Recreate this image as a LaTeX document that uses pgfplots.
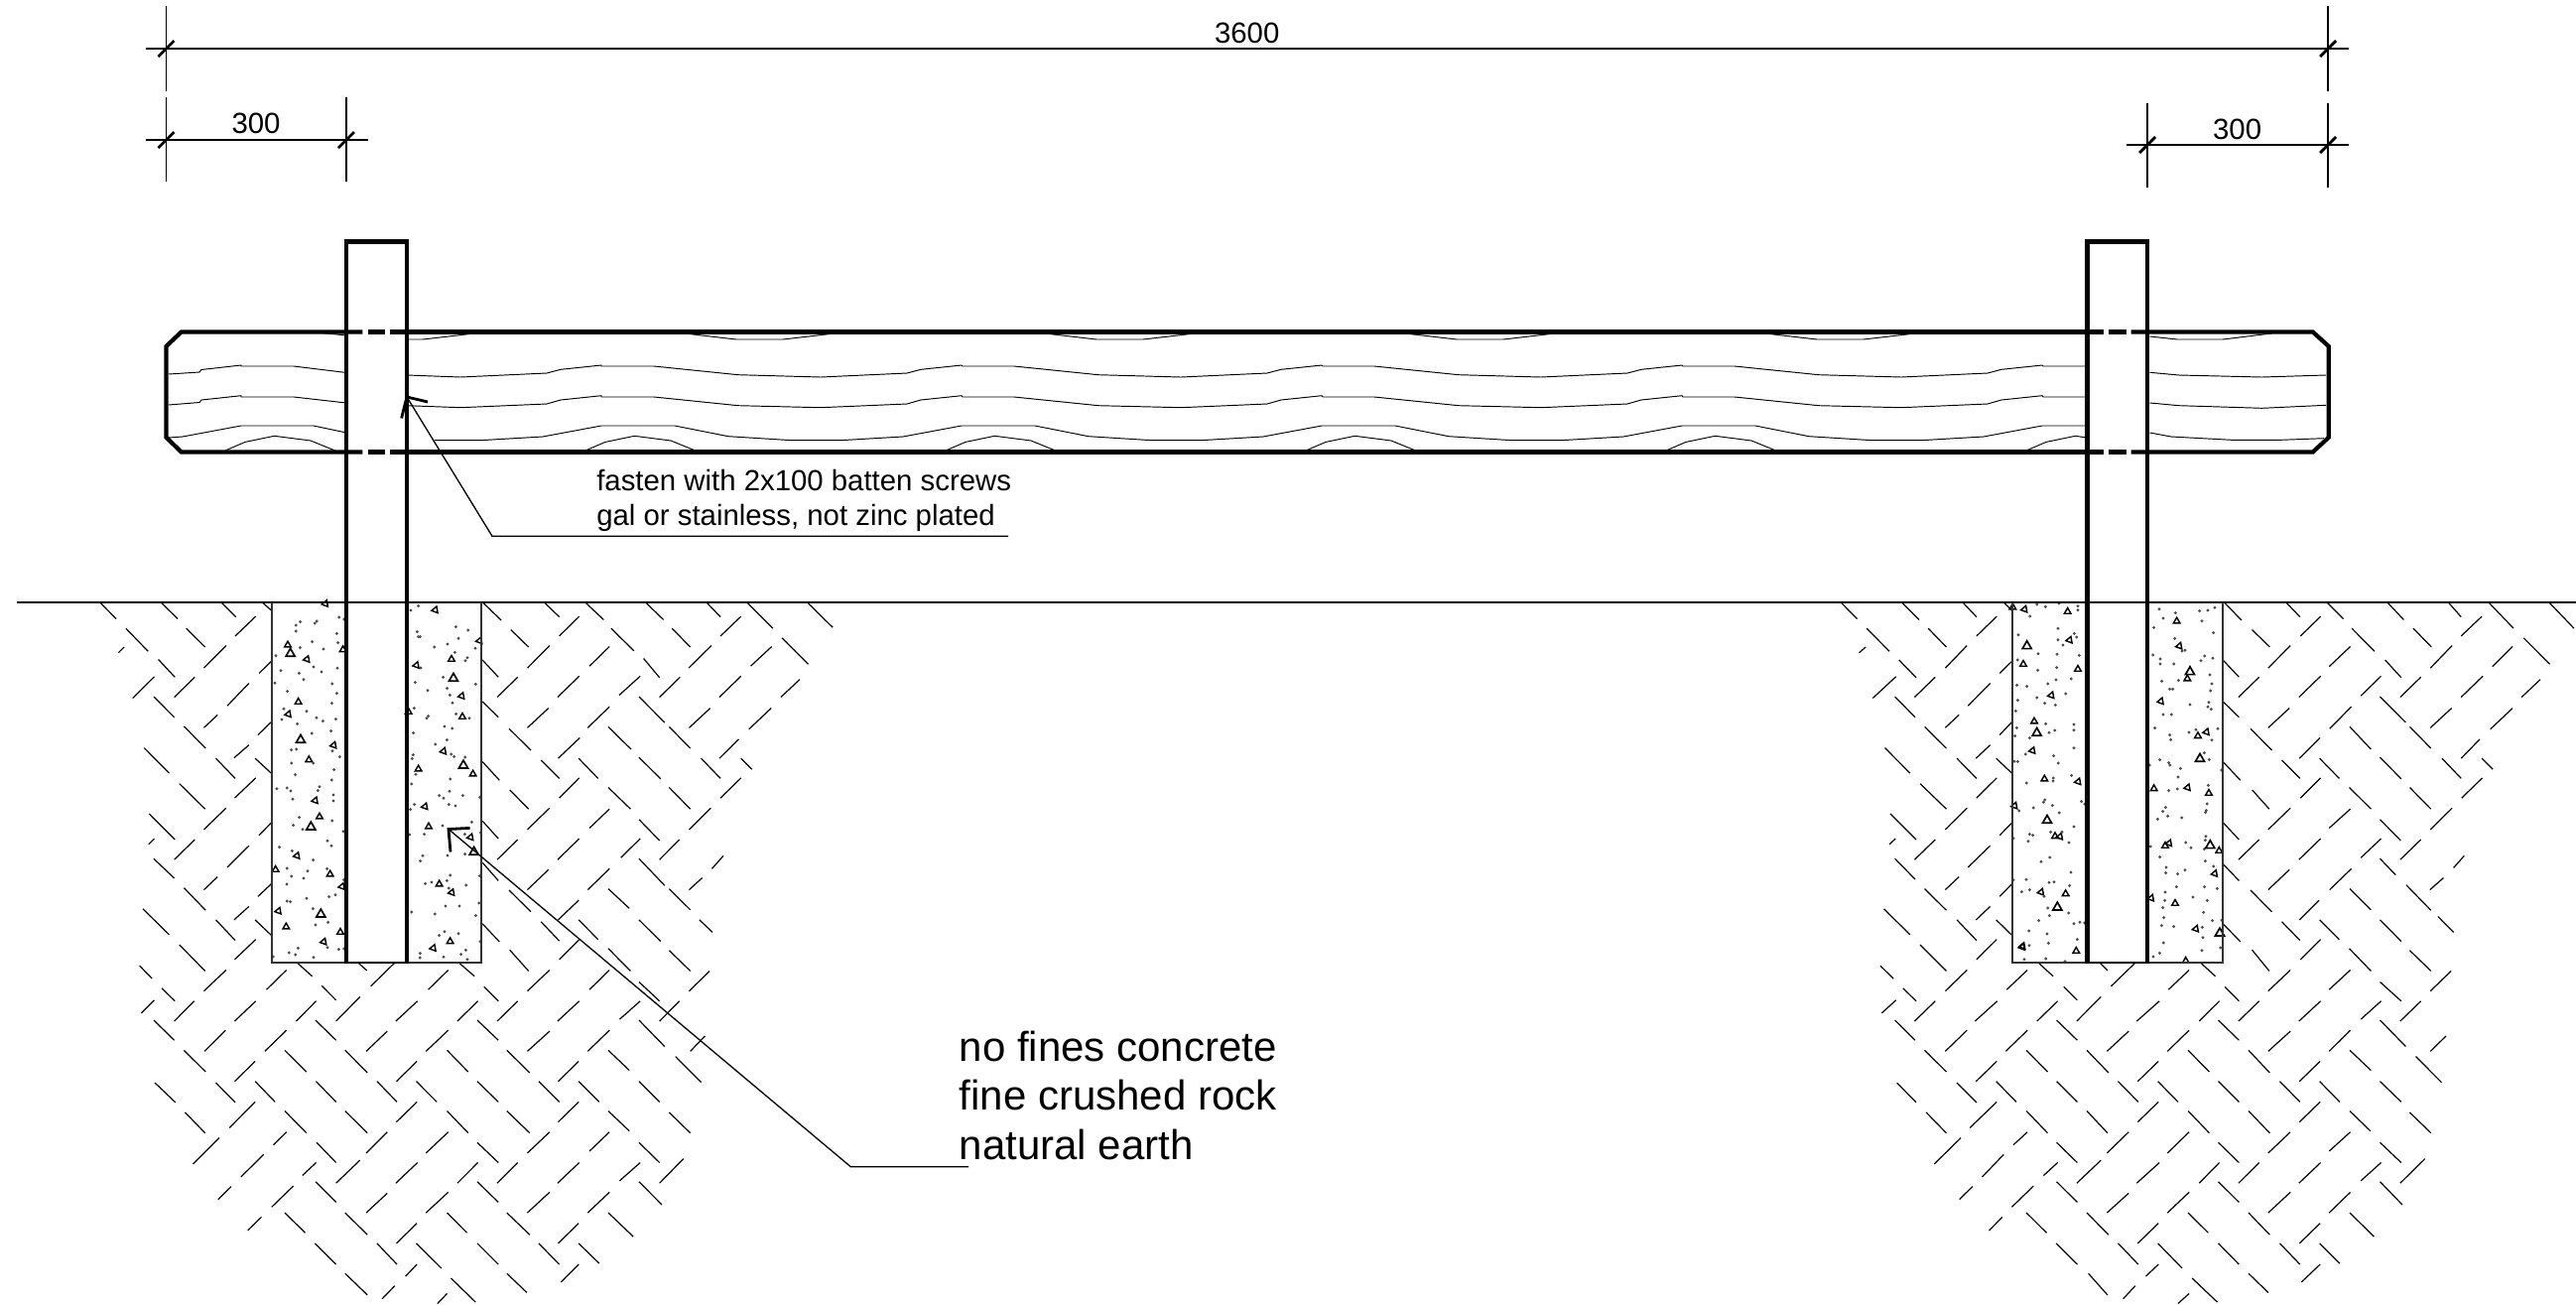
\documentclass[border=0pt]{standalone}
\usepackage{fontspec}
\setmainfont{Liberation Sans}
\usepackage{pgfplots}
\usepackage{pgfplotstable}
\pgfplotsset{compat=1.18}

% earth hatching, in the units of the axis each one is drawn in
\pgfplotstableread{
xa ya xb yb
175 97 204 132
282 97 312 132
388 97 414 128
460 97 477 115
847 97 880 135
955 97 982 128
1027 97 1060 134
1133 97 1165 134
1240 97 1265 128
1311 97 1357 152
1417 97 1462 150
221 152 260 200
327 152 360 191
413 168 449 127
897 155 928 191
982 168 1017 127
1073 152 1113 199
1180 152 1212 191
1265 168 1301 127
1373 172 1419 227
208 203 218 191
358 235 397 188
926 235 965 188
1035 231 1070 190
1209 235 1249 188
1318 231 1355 190
1130 215 1158 255
278 217 307 254
455 246 477 220
847 218 875 254
233 298 271 253
306 296 342 254
873 296 909 254
979 296 1017 252
1087 292 1124 252
1158 296 1194 254
1263 296 1301 252
1371 296 1404 259
270 295 306 338
847 305 875 338
1122 295 1167 349
399 314 437 267
926 360 963 319
1032 360 1070 316
1210 360 1247 319
1315 363 1354 319
358 360 382 333
453 375 477 347
323 357 361 403
894 362 932 407
1068 358 1108 405
1175 358 1212 403
411 423 437 396
980 424 1018 381
1263 424 1297 384
253 402 297 455
379 424 413 466
448 424 477 456
847 431 877 470
950 428 982 466
1016 424 1050 466
1122 422 1160 467
1231 424 1265 466
1301 424 1320 447
412 507 449 465
982 507 1017 465
1265 507 1301 465
315 477 360 530
895 490 928 530
1068 485 1107 530
1175 485 1212 530
358 573 397 528
926 573 965 528
1035 570 1070 530
1210 573 1248 528
262 540 307 594
455 585 477 558
847 555 875 592
1122 552 1158 596
261 604 271 592
306 636 342 594
873 636 909 594
979 636 1017 592
1090 632 1124 592
1158 636 1193 594
1250 655 1270 628
1210 699 1233 674
399 652 437 607
270 634 306 675
847 642 875 680
1122 634 1167 690
358 699 382 672
926 699 963 657
1032 699 1070 655
453 713 477 686
323 695 361 742
894 700 932 745
1068 697 1105 738
1175 697 1212 741
411 762 437 734
980 762 1016 721
251 739 297 793
379 762 413 805
448 762 477 795
847 770 877 808
950 766 982 806
1016 762 1050 803
1122 762 1160 807
1228 762 1251 788
412 845 449 803
982 845 1017 803
315 814 360 869
895 825 928 869
1068 822 1107 869
1175 826 1212 869
245 858 267 885
358 911 397 867
468 908 503 867
651 901 692 853
752 908 787 867
926 911 965 867
1035 908 1070 867
1210 911 1246 869
523 853 548 880
630 853 644 868
807 853 833 880
1122 892 1158 932
565 900 590 930
284 905 307 932
850 902 875 932
248 957 271 930
306 974 341 932
412 974 449 932
520 974 555 932
590 974 632 923
695 974 733 932
803 974 839 932
873 974 909 932
979 974 1017 932
1088 970 1124 932
1158 974 1193 932
270 972 306 1014
554 972 590 1014
838 972 875 1014
1122 972 1167 1027
359 1037 396 993
465 1037 503 993
643 1037 680 995
748 1037 787 993
926 1037 965 995
1032 1037 1070 993
1212 1037 1238 1005
323 1035 361 1080
500 1035 538 1080
606 1035 645 1082
785 1035 822 1080
890 1035 930 1082
1068 1035 1105 1077
1186 1048 1231 1102
412 1100 448 1058
696 1100 732 1058
980 1100 1016 1058
272 1103 308 1144
379 1103 413 1144
448 1100 483 1143
555 1100 590 1143
662 1100 697 1143
731 1100 767 1143
838 1100 875 1143
946 1100 982 1143
1016 1100 1052 1143
1122 1100 1158 1143
403 1197 448 1143
696 1185 732 1143
980 1185 1016 1143
325 1165 360 1208
500 1162 538 1208
606 1162 645 1208
785 1162 822 1208
890 1162 930 1208
1068 1162 1105 1204
1175 1165 1212 1208
480 1233 503 1206
643 1250 680 1206
748 1250 787 1206
926 1250 965 1206
1035 1246 1070 1206
339 1273 385 1218
556 1228 590 1270
838 1228 875 1270
1122 1228 1158 1270
423 1300 463 1253
531 1297 555 1270
590 1313 632 1265
695 1313 733 1270
803 1313 839 1270
873 1313 909 1270
979 1313 1017 1270
1088 1308 1124 1270
1158 1313 1200 1262
554 1310 590 1353
838 1310 875 1353
1122 1310 1162 1358
383 1347 406 1320
477 1363 515 1319
643 1375 680 1334
748 1375 787 1332
926 1375 965 1332
1032 1375 1070 1332
500 1375 536 1417
606 1375 645 1421
785 1375 820 1417
890 1375 930 1421
1068 1375 1112 1425
435 1412 459 1384
696 1439 732 1397
980 1439 1016 1397
553 1439 590 1483
662 1439 697 1483
731 1439 775 1491
838 1439 875 1483
946 1439 982 1483
1016 1439 1052 1481
712 1508 732 1483
985 1520 1016 1483
606 1502 645 1547
890 1502 925 1542
792 1512 835 1562
671 1555 693 1528
768 1565 785 1544
}\earthleft

\pgfplotstableread{
xa ya xb yb
108 97 141 132
229 97 264 134
350 97 378 128
431 97 449 115
869 97 904 135
992 97 1020 128
1073 97 1106 132
1193 97 1226 134
1314 97 1340 128
1394 97 1444 152
1514 97 1564 152
160 152 205 200
282 152 318 191
378 168 418 127
925 155 960 191
1021 168 1061 127
1123 152 1168 200
1245 152 1281 191
1340 168 1381 127
1464 172 1516 227
145 203 158 191
316 235 359 188
957 235 1001 188
1078 232 1120 190
1279 235 1322 188
1402 232 1442 190
224 218 258 255
424 246 449 220
867 218 899 254
1189 218 1221 255
172 298 218 253
255 296 296 254
898 296 939 254
1018 296 1061 252
1141 293 1181 252
1219 296 1260 254
1340 296 1383 252
1460 296 1497 259
216 295 256 338
867 305 899 338
1179 295 1230 349
361 314 405 267
957 360 999 319
1079 362 1122 316
1279 360 1321 319
1398 363 1442 319
316 360 343 333
424 375 449 347
275 358 318 403
922 362 964 407
1119 358 1161 405
1238 358 1280 403
377 424 405 396
1019 424 1060 381
1340 424 1377 384
196 402 246 455
339 424 378 466
417 424 449 456
867 431 902 470
984 428 1020 466
1059 424 1098 466
1179 422 1221 467
1302 424 1340 466
1381 424 1403 447
378 507 418 465
1021 507 1061 465
1341 507 1382 465
266 477 318 530
925 490 959 530
1118 485 1161 530
1238 485 1280 530
316 573 359 528
957 573 1001 528
1078 570 1120 530
1279 573 1322 528
207 540 258 594
424 585 449 558
867 558 899 594
1179 552 1220 596
205 604 217 592
255 636 296 594
898 636 939 594
1018 636 1061 592
1141 632 1181 592
1219 636 1260 594
1325 653 1346 628
1278 699 1305 674
361 652 405 607
216 634 256 677
867 645 899 680
1179 634 1210 668
316 699 343 672
957 699 999 657
1079 699 1122 655
424 713 449 686
275 697 318 742
922 700 964 745
1119 697 1161 741
1231 689 1280 742
377 762 405 734
1019 762 1058 721
194 739 246 793
339 762 378 805
417 762 449 795
867 770 902 808
984 766 1020 805
1059 762 1098 803
1179 762 1221 807
1294 755 1325 788
378 845 418 803
1021 845 1061 803
266 814 318 869
925 825 959 869
1118 822 1161 869
1238 826 1280 869
187 858 213 885
316 911 359 867
438 908 479 867
645 901 692 853
759 908 800 867
957 911 1001 867
1078 908 1120 867
1279 911 1320 869
502 853 530 880
624 853 638 868
824 853 852 880
1179 892 1221 932
551 902 578 930
232 905 258 932
871 902 899 932
190 957 218 930
255 974 296 932
375 974 419 932
498 974 539 932
577 974 625 923
696 974 741 932
820 974 860 932
898 974 939 932
1018 974 1061 932
1141 970 1181 932
1219 974 1260 932
216 972 256 1014
537 972 578 1014
858 972 899 1014
1179 972 1230 1027
316 1037 359 993
436 1037 479 993
637 1037 680 995
757 1037 800 993
957 1037 1001 995
1078 1037 1120 993
1279 1037 1310 1005
275 1035 318 1080
477 1035 519 1080
597 1035 640 1082
798 1035 840 1080
918 1035 960 1082
1119 1035 1161 1077
1250 1048 1301 1102
377 1100 418 1058
698 1100 739 1058
1019 1100 1060 1058
220 1103 258 1144
339 1103 378 1144
417 1100 457 1143
537 1100 578 1143
659 1100 699 1143
738 1100 778 1143
858 1100 899 1143
980 1100 1020 1143
1059 1100 1099 1143
1179 1100 1221 1143
365 1197 418 1143
698 1185 739 1143
1019 1185 1060 1143
278 1165 318 1208
477 1162 519 1208
597 1162 638 1208
798 1162 840 1208
918 1162 960 1208
1119 1162 1160 1204
1238 1165 1280 1208
451 1233 479 1206
637 1250 680 1206
757 1250 800 1206
957 1250 1001 1206
1078 1246 1120 1206
294 1273 347 1218
537 1228 578 1270
858 1228 899 1270
1179 1228 1221 1270
389 1300 432 1253
511 1297 539 1270
577 1313 625 1265
696 1313 741 1270
820 1313 860 1270
898 1313 939 1270
1018 1313 1061 1270
1141 1308 1181 1270
1219 1313 1268 1262
537 1310 578 1353
858 1310 899 1353
1179 1310 1223 1358
344 1347 370 1320
448 1363 491 1319
637 1375 680 1334
757 1375 800 1332
957 1375 1001 1332
1078 1375 1120 1332
477 1375 517 1417
597 1375 640 1421
798 1375 838 1417
918 1375 960 1421
1119 1375 1167 1425
403 1412 429 1384
698 1439 739 1397
1019 1439 1060 1397
536 1439 578 1483
659 1439 699 1483
738 1439 786 1491
858 1439 899 1483
980 1439 1020 1483
1059 1439 1099 1481
714 1508 739 1483
1023 1520 1060 1483
600 1502 638 1547
918 1502 957 1542
806 1512 856 1562
669 1555 693 1528
778 1565 800 1544
}\earthright

\pgfplotsset{
  drawing/.style={scale only axis, hide axis, y dir=reverse, clip=false,
    enlargelimits=false, anchor=north west},
  heavy/.style={black, line width=1.05pt, line join=miter},
  tick/.style={black, line width=0.7pt},
  thinline/.style={black, line width=0.33pt},
  grain/.style={black, line width=0.24pt},
  hatch/.style={black, line width=0.3pt,
    quiver={u=\thisrow{xb}-\thisrow{xa}, v=\thisrow{yb}-\thisrow{ya}}},
  small tri/.style={only marks, mark=triangle, mark size=0.95pt,
    mark options={black, line width=0.36pt}},
  big tri/.style={only marks, mark=triangle, mark size=1.3pt,
    mark options={black, line width=0.42pt}},
  side tri/.style={only marks, mark=triangle, mark size=0.95pt,
    mark options={black, line width=0.36pt, rotate=100}},
  dots/.style={only marks, mark=*, mark size=0.12pt,
    mark options={black!70, draw=none}},
}

\begin{document}
\begin{tikzpicture}
\path[use as bounding box] (0,0) rectangle (649pt,-328.75pt);

% earth, left hole
\begin{axis}[drawing, at={(0pt,-140pt)}, width=225pt, height=188.75pt,
    xmin=0, xmax=1568, ymin=0, ymax=1568]
\addplot[hatch] table[x=xa, y=ya] {\earthleft};
\end{axis}

% earth, right hole
\begin{axis}[drawing, at={(450pt,-140pt)}, width=199pt, height=188.75pt,
    xmin=0, xmax=1568, ymin=0, ymax=1568]
\addplot[hatch] table[x=xa, y=ya] {\earthright};
\end{axis}

% concrete, left hole
\begin{axis}[drawing, at={(62.5pt,-150pt)}, width=65pt, height=97.5pt,
    xmin=0, xmax=780, ymin=0, ymax=1170]
\addplot[big tri] coordinates {(128,176) (159,437) (190,700) (220,964) (621,251) (651,514) (683,776)};
\addplot[small tri] coordinates {(120,150) (152,322) (184,497) (216,669) (83,829) (248,843) (115,1002) (279,1018) (287,164) (615,193) (648,367) (680,540) (515,525) (546,699) (578,873) (611,1046) (485,352)};
\addplot[side tri] coordinates {(178,193) (122,359) (259,453) (203,620) (148,787) (284,880) (92,954) (229,1047) (234,25) (566,44) (509,211) (646,304) (591,471) (535,638) (673,731) (616,898) (560,1066) (700,137)};
\addplot[dots] coordinates {(158,80) (145,90) (145,108) (208,78) (202,84) (275,66) (290,72) (268,115) (272,143) (194,140) (157,158) (228,162) (84,182) (198,216) (222,231) (99,227) (154,235) (168,254) (270,220) (254,267) (268,296) (81,265) (119,290) (253,326) (265,374) (108,343) (102,375) (177,350) (207,370) (226,380) (149,388) (251,410) (193,417) (131,467) (146,465) (255,470) (277,488) (131,507) (197,507) (143,542) (260,527) (253,558) (87,584) (118,582) (129,591) (216,578) (211,590) (135,616) (258,603) (258,621) (155,671) (137,695) (165,707) (254,681) (288,713) (240,742) (252,757) (95,761) (133,772) (197,800) (118,825) (239,826) (180,833) (131,849) (168,855) (117,873) (290,860) (264,905) (245,911) (177,916) (118,924) (128,926) (196,947) (242,988) (204,996) (151,1066) (124,1080) (143,1086) (198,1094) (76,1092) (240,1064) (274,1070) (290,1068)
(492,45) (515,32) (511,110) (515,125) (520,125) (628,95) (665,105) (636,130) (563,156) (603,147) (625,172) (687,160) (663,188) (657,197) (522,219) (505,263) (590,247) (602,281) (688,268) (543,287) (610,301) (618,325) (502,341) (545,365) (540,371) (629,358) (669,371) (594,396) (617,402) (500,416) (601,437) (566,450) (614,480) (623,487) (656,489) (499,482) (496,493) (507,541) (494,570) (611,555) (609,592) (578,605) (591,613) (649,605) (607,632) (627,636) (503,632) (491,647) (701,610) (588,696) (676,685) (533,722) (488,723) (655,722) (603,786) (656,782) (703,717) (528,787) (521,803) (611,846) (601,862) (555,867) (536,871) (607,885) (659,876) (700,848) (597,939) (639,939) (698,930) (494,957) (565,963) (688,968) (594,1016) (578,1028) (636,1022) (520,1082) (520,1095) (591,1093) (644,1085) (663,1100) (658,1072) (702,1046)};
\end{axis}

% concrete, right hole
\begin{axis}[drawing, at={(505pt,-150pt)}, width=57.5pt, height=95pt,
    xmin=0, xmax=690, ymin=0, ymax=1140]
\addplot[big tri] coordinates {(68,153) (98,416) (129,680) (160,943) (561,231) (591,494) (622,756) (651,1021)};
\addplot[small tri] coordinates {(191,49) (57,208) (222,223) (90,381) (121,555) (153,728) (185,902) (217,1075) (521,78) (553,252) (585,425) (452,584) (618,598) (486,757) (649,772) (516,931) (548,1105) (25,36)};
\addplot[side tri] coordinates {(61,42) (197,135) (142,302) (85,469) (223,563) (31,636) (168,729) (111,897) (473,320) (529,153) (611,413) (554,581) (498,749) (636,841) (444,915) (579,1008) (54,1063) (55,1060)};
\addplot[dots] coordinates {(98,27) (124,34) (77,63) (165,24) (222,32) (222,44) (162,100) (42,119) (162,134) (177,150) (211,115) (218,126) (102,176) (159,178) (226,181) (40,195) (101,226) (158,218) (156,255) (202,252) (38,271) (68,275) (131,267) (98,309) (40,317) (122,326) (154,331) (185,297) (34,349) (125,388) (37,400) (135,415) (152,408) (210,390) (210,407) (32,425) (76,431) (210,461) (64,480) (149,485) (163,507) (30,502) (40,502) (203,544) (148,552) (147,561) (67,567) (122,618) (118,625) (145,635) (88,642) (233,623) (243,631) (166,657) (44,651) (210,699) (140,715) (76,722) (86,725) (72,743) (174,715) (195,747) (27,734) (137,792) (111,805) (201,837) (66,859) (135,868) (150,866) (197,877) (76,890) (52,896) (27,860) (120,910) (131,945) (194,960) (136,968) (104,983) (210,992) (228,988) (242,990) (74,1014) (129,1023) (220,1040) (133,1051) (75,1058) (60,1100) (125,1098) (183,1106)
(468,41) (517,53) (590,47) (615,45) (636,37) (480,69) (597,77) (452,97) (632,113) (515,130) (537,168) (546,166) (449,180) (471,192) (471,207) (605,183) (594,197) (630,190) (512,207) (621,240) (476,259) (526,257) (627,267) (500,283) (509,283) (623,288) (618,323) (561,330) (615,337) (625,344) (480,360) (505,360) (455,401) (579,406) (558,414) (645,403) (500,422) (503,436) (627,437) (604,476) (619,496) (470,497) (497,506) (500,513) (439,513) (532,523) (656,528) (525,549) (616,574) (523,585) (497,590) (613,630) (487,641) (479,653) (610,650) (608,656) (494,667) (536,672) (463,676) (609,728) (607,740) (548,747) (604,767) (442,759) (564,763) (470,791) (607,803) (632,819) (489,822) (546,830) (488,839) (524,842) (605,881) (643,886) (520,881) (486,897) (570,912) (485,922) (613,922) (479,944) (602,958) (482,974) (475,998) (512,1001) (598,1003) (629,983) (657,982) (600,1034) (481,1050) (597,1073) (653,1065) (469,1081) (450,1092)};
\end{axis}

% everything else, in picture pixels
\begin{axis}[drawing, at={(0pt,0pt)}, width=649pt, height=328.75pt,
    xmin=0, xmax=2596, ymin=0, ymax=1315]

% dimension lines
\addplot[thinline] coordinates {(146.5,49) (2367,49)};
\addplot[thinline] coordinates {(146.5,141) (371,141)};
\addplot[thinline] coordinates {(2142.6,146) (2367,146)};
\addplot[thinline] coordinates {(167.5,6) (167.5,92)};
\addplot[thinline] coordinates {(167.5,98) (167.5,183)};
\addplot[thinline] coordinates {(349,98) (349,183)};
\addplot[thinline] coordinates {(2346,6) (2346,92)};
\addplot[thinline] coordinates {(2346,104) (2346,189)};
\addplot[thinline] coordinates {(2164,104) (2164,189)};
\addplot[tick] coordinates {(159.5,57) (175.5,41)};
\addplot[tick] coordinates {(159.5,149) (175.5,133)};
\addplot[tick] coordinates {(341,149) (357,133)};
\addplot[tick] coordinates {(2338,57) (2354,41)};
\addplot[tick] coordinates {(2338,154) (2354,138)};
\addplot[tick] coordinates {(2156,154) (2172,138)};

% wood grain
\addplot[grain] coordinates {(320,335) (349,338)};
\addplot[grain] coordinates {(411,342) (426,342) (478,336)};
\addplot[grain] coordinates {(690,336) (742,342) (789,342) (841,336)};
\addplot[grain] coordinates {(1053,336) (1105,342) (1152,342) (1204,336)};
\addplot[grain] coordinates {(1416,336) (1468,342) (1515,342) (1567,336)};
\addplot[grain] coordinates {(1779,336) (1831,342) (1878,342) (1930,336)};
\addplot[grain] coordinates {(2166.5,339) (2194,342) (2240,342) (2289,336)};

\addplot[grain] coordinates {(170,377) (201,375) (203,372.5) (243,368) (243,369) (296,369) (349,375.5)};
\addplot[grain] coordinates {(410,378) (464,380) (551,376) (565,372.3) (606,368) (606,369) (659,369) (744,377.7) (827,380) (914,376) (928,372.3) (969,368) (970,369) (1022,369) (1107,377.7) (1190,380) (1277,376) (1291,372.3) (1332,368) (1333,369) (1385,369) (1470,377.7) (1553,380) (1640,376) (1654,372.3) (1695,368) (1696,369) (1748,369) (1833,377.7) (1916,380) (2003,376) (2017,372.3) (2058,368) (2059,369) (2103,369)};
\addplot[grain] coordinates {(2166.5,375.3) (2196,378) (2279.5,380) (2344,378)};

\addplot[grain] coordinates {(170,408) (201,405.5) (203,403) (243,398.7) (243,400) (296,400) (349,406)};
\addplot[grain] coordinates {(410,408.7) (464,410.7) (551,407) (565,403) (606,398.7) (606,400) (659,400) (744,408.7) (827,410.7) (914,407) (928,403) (969,398.7) (970,400) (1022,400) (1107,408.7) (1190,410.7) (1277,407) (1291,403) (1332,398.7) (1333,400) (1385,400) (1470,408.7) (1553,410.7) (1640,407) (1654,403) (1695,398.7) (1696,400) (1748,400) (1833,408.7) (1916,410.7) (2003,407) (2017,403) (2058,398.7) (2059,400) (2103,400)};
\addplot[grain] coordinates {(2166.5,406) (2196,408.7) (2279.5,411.3) (2344,408.3)};

\addplot[grain] coordinates {(170,441) (184,440) (243,429) (316,429) (349,436)};
\addplot[grain] coordinates {(438,443.7) (484,443.7) (547,440) (606,429) (680,429) (734,439.7) (798,443.7) (847,443.7) (910,440) (969,429) (1043,429) (1097,439.7) (1161,443.7) (1210,443.7) (1273,440) (1332,429) (1406,429) (1460,439.7) (1524,443.7) (1573,443.7) (1636,440) (1695,429) (1769,429) (1823,439.7) (1887,443.7) (1936,443.7) (1999,440) (2058,429) (2103,429)};
\addplot[grain] coordinates {(2166.5,436) (2188,440) (2249,443.3) (2298.5,443.3) (2342,441.7)};

\addplot[grain] coordinates {(227,454) (247,445.4) (276.4,439.3) (313,444) (337.6,454)};
\addplot[grain] coordinates {(590,454) (610,445.4) (639.4,439.3) (676,444) (700.6,454)};
\addplot[grain] coordinates {(953,454) (973,445.4) (1002.4,439.3) (1039,444) (1063.6,454)};
\addplot[grain] coordinates {(1316,454) (1336,445.4) (1365.4,439.3) (1402,444) (1426.6,454)};
\addplot[grain] coordinates {(1679,454) (1699,445.4) (1728.4,439.3) (1765,444) (1789.6,454)};
\addplot[grain] coordinates {(2042,454) (2062,445.4) (2091.4,439.3) (2103,441)};

% ground and footings
\addplot[black, line width=0.42pt] coordinates {(17,606.7) (2596,606.7)};
\addplot[black!80, line width=0.48pt] coordinates {(273.8,606.7) (273.8,969.7) (485,969.7) (485,606.7)};
\addplot[black!80, line width=0.48pt] coordinates {(2028,606.7) (2028,969.7) (2239.6,969.7) (2239.6,606.7)};

% rail
\addplot[heavy] coordinates {(365.3,334.5) (182.7,334.5) (167.5,349) (167.5,440.7) (182.7,455.5) (365.3,455.5)};
\addplot[heavy] coordinates {(370.6,334.5) (388,334.5)};
\addplot[heavy] coordinates {(370.6,455.5) (388,455.5)};
\addplot[heavy] coordinates {(393.4,334.5) (2120,334.5)};
\addplot[heavy] coordinates {(393.4,455.5) (2120,455.5)};
\addplot[heavy] coordinates {(2124.7,334.5) (2143.3,334.5)};
\addplot[heavy] coordinates {(2124.7,455.5) (2143.3,455.5)};
\addplot[heavy] coordinates {(2147.5,334.5) (2330.8,334.5) (2346.8,349) (2346.8,440.7) (2330.8,455.5) (2147.5,455.5)};

% posts
\addplot[heavy] coordinates {(349,971) (349,243.5) (410,243.5) (410,971)};
\addplot[heavy] coordinates {(2103.5,971) (2103.5,243.5) (2164,243.5) (2164,971)};
\addplot[black, line width=0.6pt] coordinates {(349,969.7) (410,969.7)};
\addplot[black, line width=0.6pt] coordinates {(2103.5,969.7) (2164,969.7)};

% leaders
\addplot[thinline] coordinates {(1016,540.3) (496,540.3) (410,400)};
\addplot[tick] coordinates {(431,405) (410,400) (404.6,421.4)};
\addplot[thinline] coordinates {(976,1175.7) (857.3,1175.7) (452,835.5)};
\addplot[tick] coordinates {(473.6,834.4) (452,835.5) (454,858.5)};

% text
\node[anchor=base, inner sep=0pt, font=\fontsize{7.34}{9}\selectfont] at (axis cs:1256.7,43.5) {3600};
\node[anchor=base, inner sep=0pt, font=\fontsize{7.34}{9}\selectfont] at (axis cs:258,134) {300};
\node[anchor=base, inner sep=0pt, font=\fontsize{7.34}{9}\selectfont] at (axis cs:2254.6,140) {300};
\node[anchor=base west, inner sep=0pt, font=\fontsize{7.34}{9}\selectfont] at (axis cs:600.5,494) {fasten with 2x100 batten screws};
\node[anchor=base west, inner sep=0pt, font=\fontsize{7.34}{9}\selectfont] at (axis cs:600.5,529) {gal or stainless, not zinc plated};
\node[anchor=base west, inner sep=0pt, font=\fontsize{10.5}{12}\selectfont] at (axis cs:966,1069) {no fines concrete};
\node[anchor=base west, inner sep=0pt, font=\fontsize{10.5}{12}\selectfont] at (axis cs:966,1118.5) {fine crushed rock};
\node[anchor=base west, inner sep=0pt, font=\fontsize{10.5}{12}\selectfont] at (axis cs:966,1168) {natural earth};
\end{axis}
\end{tikzpicture}
\end{document}
